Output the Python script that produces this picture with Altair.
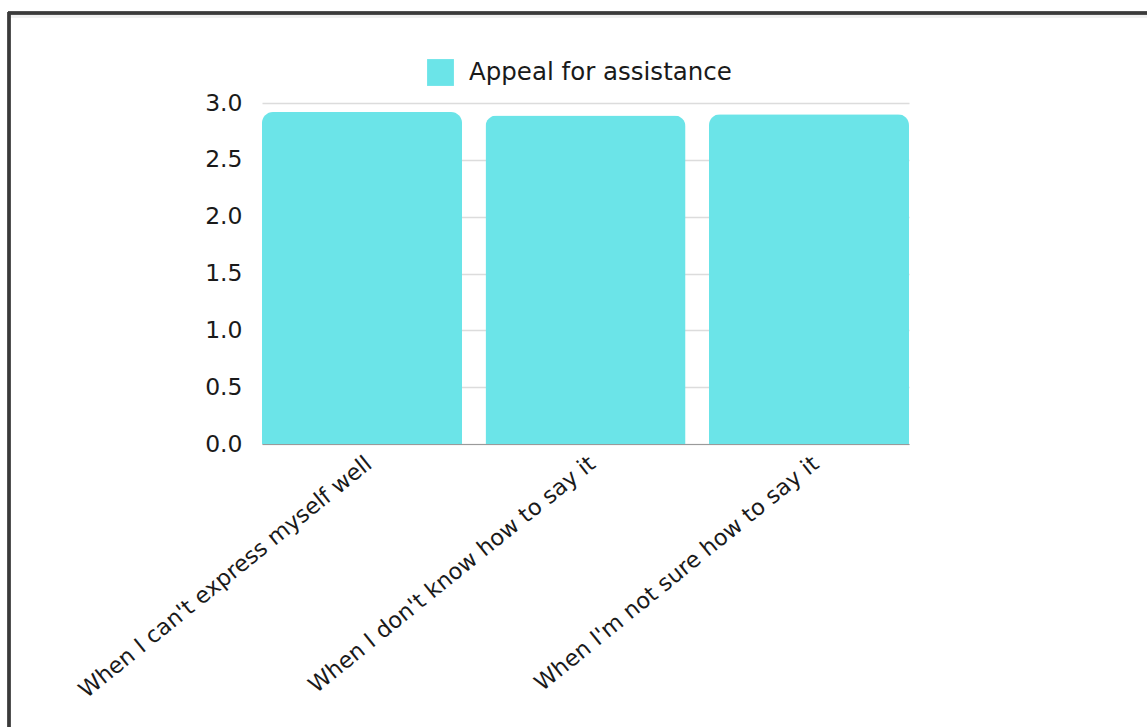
import altair as alt
import pandas as pd

categories = [
    "When I can't express myself well",
    "When I don't know how to say it",
    "When I'm not sure how to say it",
]
values = [2.92, 2.89, 2.90]
series_name = "Appeal for assistance"
y_ticks = [0.0, 0.5, 1.0, 1.5, 2.0, 2.5, 3.0]

df = pd.DataFrame({"category": categories, "value": values, "series": [series_name] * len(categories)})

W, H = 647, 341
PAD = {"left": 262, "top": 103, "right": 1147 - 262 - W, "bottom": 727 - 103 - H}

bars = alt.Chart(df).mark_bar(
    cornerRadiusTopLeft=11, cornerRadiusTopRight=11
).encode(
    x=alt.X(
        "category:N",
        sort=categories,
        title=None,
        scale=alt.Scale(paddingInner=0.105, paddingOuter=0),
        axis=alt.Axis(
            labelAngle=-39,
            labelAlign="right",
            labelBaseline="top",
            labelFont="DejaVu Sans",
            labelFontSize=22.5,
            labelColor="#1a1a1a",
            ticks=False,
            domain=True,
            domainColor="#9a9a9a",
            labelPadding=8,
            labelLimit=500,
        ),
    ),
    y=alt.Y(
        "value:Q",
        title=None,
        scale=alt.Scale(domain=[0, 3]),
        axis=alt.Axis(
            values=y_ticks,
            format=".1f",
            labelFont="DejaVu Sans",
            labelFontSize=23.5,
            labelColor="#1a1a1a",
            ticks=False,
            domain=False,
            labelPadding=20,
            grid=True,
            gridColor="#dcdcdc",
            gridWidth=1.5,
        ),
    ),
    color=alt.Color(
        "series:N",
        title=None,
        scale=alt.Scale(range=["#6BE4E8"]),
        legend=alt.Legend(
            orient="none",
            legendX=165,
            legendY=-44,
            padding=0,
            direction="horizontal",
            symbolType="square",
            symbolSize=720,
            symbolStrokeWidth=0,
            labelFont="DejaVu Sans",
            labelFontSize=24.5,
            labelColor="#1a1a1a",
            labelOffset=15,
            labelLimit=500,
        ),
    ),
)

border_top = alt.Chart(df).mark_rule(color="#3a3a3a", strokeWidth=3).encode(
    x=alt.value(-254), x2=alt.value(W + PAD["right"] + 5), y=alt.value(-90)
)
shadow_top = alt.Chart(df).mark_rule(color="#f0f0f0", strokeWidth=3).encode(
    x=alt.value(-252), x2=alt.value(W + PAD["right"] + 5), y=alt.value(-87)
)
border_left = alt.Chart(df).mark_rule(color="#3a3a3a", strokeWidth=3).encode(
    x=alt.value(-253), y=alt.value(-91), y2=alt.value(H + PAD["bottom"] + 5)
)

chart = alt.layer(shadow_top, bars, border_top, border_left).properties(
    width=W,
    height=H,
    autosize=alt.AutoSizeParams(type="none"),
    padding=PAD,
    background="white",
).configure_view(stroke=None)

chart.save("out.html", embed_options={"renderer": "svg", "actions": False})
